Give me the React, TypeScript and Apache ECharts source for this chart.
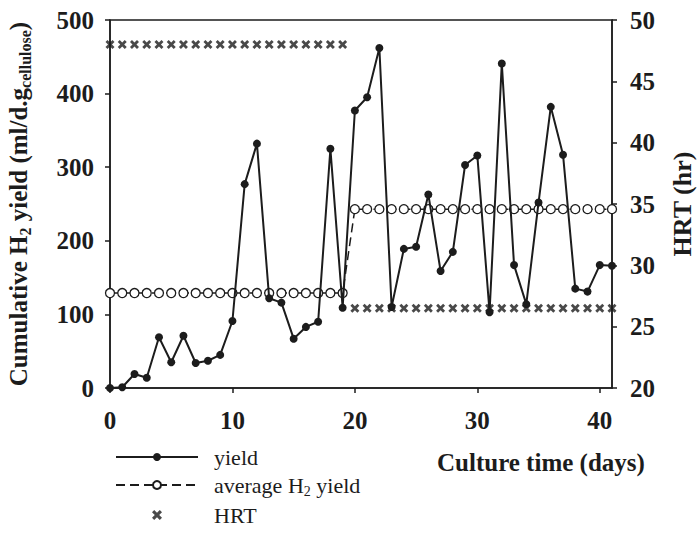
import React, { useEffect, useRef } from 'react';
import * as echarts from 'echarts';

const days = [0, 1, 2, 3, 4, 5, 6, 7, 8, 9, 10, 11, 12, 13, 14, 15, 16, 17, 18, 19, 20, 21, 22, 23, 24, 25, 26, 27, 28, 29, 30, 31, 32, 33, 34, 35, 36, 37, 38, 39, 40, 41];
const yieldValues = [0, 1, 19, 14, 69, 35, 71, 34, 37, 45, 91, 277, 332, 122, 116, 67, 83, 90, 325, 109, 377, 395, 462, 110, 189, 192, 263, 159, 185, 303, 316, 103, 441, 167, 114, 252, 382, 317, 135, 131, 167, 166];
const avgValues = [129, 129, 129, 129, 129, 129, 129, 129, 129, 129, 129, 129, 129, 129, 129, 129, 129, 129, 129, 129, 243, 243, 243, 243, 243, 243, 243, 243, 243, 243, 243, 243, 243, 243, 243, 243, 243, 243, 243, 243, 243, 243];
const hrtValues = [48, 48, 48, 48, 48, 48, 48, 48, 48, 48, 48, 48, 48, 48, 48, 48, 48, 48, 48, 48, 26.5, 26.5, 26.5, 26.5, 26.5, 26.5, 26.5, 26.5, 26.5, 26.5, 26.5, 26.5, 26.5, 26.5, 26.5, 26.5, 26.5, 26.5, 26.5, 26.5, 26.5, 26.5];
const xTicks = [0, 10, 20, 30, 40];
const leftTicks = [0, 100, 200, 300, 400, 500];
const rightTicks = [20, 25, 30, 35, 40, 45, 50];

const INK = '#1c1c1c';
const SERIF = '"Liberation Serif", "Times New Roman", serif';
const CROSS = 'path://M0,2.2 L2.2,0 L5,2.8 L7.8,0 L10,2.2 L7.2,5 L10,7.8 L7.8,10 L5,7.2 L2.2,10 L0,7.8 L2.8,5 Z';

export default function App() {
  const ref = useRef<HTMLDivElement>(null);
  useEffect(() => {
    document.body.style.margin = '0';
    const chart = echarts.init(ref.current!, null, { renderer: 'svg' });
    const axisLabelStyle = { fontFamily: SERIF, fontWeight: 'bold' as const, fontSize: 25, color: INK };
    const sub = { fontFamily: SERIF, fontWeight: 'bold' as const, fontSize: 16, color: INK, padding: [14, 0, 0, 0] };
    chart.setOption({
      animation: false,
      backgroundColor: '#ffffff',
      grid: {
        left: 110, right: 85, top: 20, bottom: 150,
        outerBoundsMode: 'none',
        containLabel: false,
        show: true, borderColor: INK, borderWidth: 1.5, backgroundColor: 'transparent',
      },
      legend: {
        orient: 'vertical',
        left: 110,
        top: 441,
        itemWidth: 82,
        itemHeight: 10,
        itemGap: 6,
        data: [
          { name: 'yield' },
          { name: 'average H2 yield' },
          { name: 'HRT', icon: CROSS },
        ],
        formatter: (name: string) =>
          name === 'average H2 yield' ? '{p|average H}{s|2}{a| yield}' : '{p|' + name + '}',
        textStyle: {
          fontFamily: SERIF,
          fontSize: 22,
          color: INK,
          rich: {
            p: { fontFamily: SERIF, fontSize: 22, color: INK, padding: [0, 0, 0, 11] },
            a: { fontFamily: SERIF, fontSize: 22, color: INK },
            s: { fontFamily: SERIF, fontSize: 14, color: INK, padding: [12, 0, 0, 0] },
          },
        },
      },
      graphic: [
        {
          type: 'text',
          left: 437,
          top: 450,
          style: { text: 'Culture time (days)', fontFamily: SERIF, fontWeight: 'bold', fontSize: 25, fill: INK },
        },
      ],
      xAxis: {
        type: 'value',
        min: 0,
        max: 41,
        interval: 10,
        axisLine: { show: true, lineStyle: { color: INK, width: 1.5 } },
        axisTick: { show: true, length: 5, lineStyle: { color: INK, width: 1.5 } },
        axisLabel: { ...axisLabelStyle, margin: 20, showMaxLabel: false, formatter: (v: number) => (xTicks.includes(v) ? String(v) : '') },
        splitLine: { show: false },
      },
      yAxis: [
        {
          type: 'value',
          min: leftTicks[0],
          max: leftTicks[leftTicks.length - 1],
          interval: 100,
          position: 'left',
          axisLine: { show: true, lineStyle: { color: INK, width: 1.5 } },
          axisTick: { show: true, length: 5, lineStyle: { color: INK, width: 1.5 } },
          axisLabel: { ...axisLabelStyle, margin: 16 },
          splitLine: { show: false },
          name: '{a|Cumulative H}{s|2}{a| yield (ml/d.g}{s|cellulose}{a|)}',
          nameLocation: 'middle',
          nameGap: 77,
          nameRotate: 90,
          nameTextStyle: {
            fontFamily: SERIF,
            fontWeight: 'bold',
            fontSize: 25,
            color: INK,
            rich: {
              a: { fontFamily: SERIF, fontWeight: 'bold', fontSize: 25, color: INK },
              s: sub,
            },
          },
        },
        {
          type: 'value',
          min: rightTicks[0],
          max: rightTicks[rightTicks.length - 1],
          interval: 5,
          position: 'right',
          axisLine: { show: true, lineStyle: { color: INK, width: 1.5 } },
          axisTick: { show: true, length: 5, lineStyle: { color: INK, width: 1.5 } },
          axisLabel: { ...axisLabelStyle, margin: 18 },
          splitLine: { show: false },
          name: 'HRT (hr)',
          nameLocation: 'middle',
          nameGap: 57,
          nameRotate: 90,
          nameTextStyle: { fontFamily: SERIF, fontWeight: 'bold', fontSize: 26, color: INK },
        },
      ],
      series: [
        {
          name: 'average H2 yield',
          type: 'line',
          yAxisIndex: 0,
          data: days.map((d, i) => [d, avgValues[i]]),
          symbol: 'circle',
          symbolSize: 9,
          showAllSymbol: true,
          lineStyle: { color: INK, width: 1.5, type: [9, 5] },
          itemStyle: { color: '#ffffff', borderColor: INK, borderWidth: 1.3 },
          z: 2,
        },
        {
          name: 'HRT',
          type: 'scatter',
          yAxisIndex: 1,
          data: days.map((d, i) => [d, hrtValues[i]]),
          symbol: CROSS,
          symbolSize: 9,
          itemStyle: { color: INK },
          z: 3,
        },
        {
          name: 'yield',
          type: 'line',
          yAxisIndex: 0,
          data: days.map((d, i) => [d, yieldValues[i]]),
          symbol: 'circle',
          symbolSize: 8,
          showAllSymbol: true,
          lineStyle: { color: INK, width: 2 },
          itemStyle: { color: INK },
          z: 4,
        },
      ],
    });
    return () => chart.dispose();
  }, []);
  return <div ref={ref} style={{ width: 697, height: 538 }} />;
}
